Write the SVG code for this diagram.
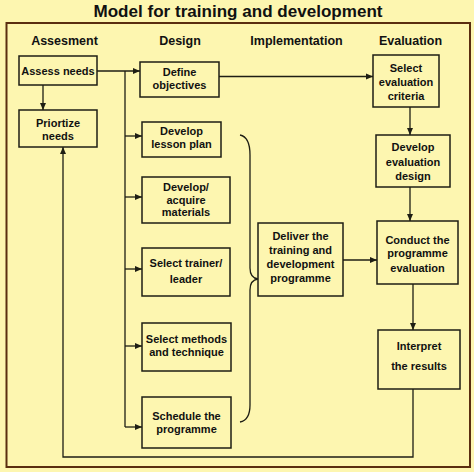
<svg xmlns="http://www.w3.org/2000/svg" width="474" height="472" viewBox="0 0 474 472">
<defs>
<marker id="arr" markerWidth="7" markerHeight="7" refX="7" refY="3.5" orient="auto" markerUnits="userSpaceOnUse">
<path d="M0,0.5 L7,3.5 L0,6.5 z" fill="#1e1e14"/>
</marker>
<style>
.bx{fill:#fdf6b0;stroke:#1e1e14;stroke-width:1.5}
.t{font-family:"Liberation Sans",Arial,sans-serif;font-weight:bold;font-size:11px;fill:#111;text-anchor:middle}
.h{font-family:"Liberation Sans",Arial,sans-serif;font-weight:bold;font-size:12.5px;fill:#111;text-anchor:middle}
.c{fill:none;stroke:#1e1e14;stroke-width:1.3}
.a{marker-end:url(#arr)}
</style>
</defs>
<rect x="0" y="0" width="474" height="472" fill="#fdf6b0"/>
<text x="238" y="17" font-family="'Liberation Sans',Arial,sans-serif" font-weight="bold" font-size="17" fill="#111" text-anchor="middle" textLength="289" lengthAdjust="spacingAndGlyphs">Model for training and development</text>
<rect x="6.5" y="23" width="463.5" height="444" fill="none" stroke="#5a2e10" stroke-width="2"/>
<g id="headers">
<text class="h" x="64.5" y="44.5">Assesment</text>
<text class="h" x="180" y="44.5">Design</text>
<text class="h" x="296.5" y="44.5">Implementation</text>
<text class="h" x="410.5" y="44.5">Evaluation</text>
</g>
<g id="connectors">
<path class="c a" d="M97,71 H140"/>
<path class="c" d="M125,71 V427"/>
<path class="c a" d="M125,136 H142"/>
<path class="c a" d="M125,197 H142"/>
<path class="c a" d="M125,269 H142"/>
<path class="c a" d="M125,346 H142"/>
<path class="c a" d="M125,427 H142"/>
<path class="c a" d="M43,85 V110"/>
<path class="c a" d="M219,76.5 H373"/>
<path class="c a" d="M410,107 V135"/>
<path class="c a" d="M410,187 V221"/>
<path class="c a" d="M343,260 H377"/>
<path class="c a" d="M413,284 V330"/>
<path class="c a" d="M413,389 V457 H63 V147"/>
<path class="c" d="M240,135 Q250,137 250,155 L250,268 Q250,278 258,279 Q250,280 250,290 L250,405 Q250,420 240,422"/>
</g>
<g id="assess-needs"><rect class="bx" x="19" y="56" width="78" height="29"/><text class="t" x="58" y="75">Assess needs</text></g>
<g id="priortize-needs"><rect class="bx" x="19" y="110" width="78" height="37"/><text class="t" x="58" y="126.5">Priortize</text><text class="t" x="58" y="139.5">needs</text></g>
<g id="define-objectives"><rect class="bx" x="140" y="62" width="79" height="35"/><text class="t" x="179.5" y="76">Define</text><text class="t" x="179.5" y="88.5">objectives</text></g>
<g id="develop-lesson-plan"><rect class="bx" x="142" y="122" width="79" height="35"/><text class="t" x="181.5" y="135">Develop</text><text class="t" x="181.5" y="147.5">lesson plan</text></g>
<g id="develop-materials"><rect class="bx" x="142" y="177" width="88" height="46"/><text class="t" x="186" y="191">Develop/</text><text class="t" x="186" y="203.5">acquire</text><text class="t" x="186" y="216">materials</text></g>
<g id="select-trainer"><rect class="bx" x="142" y="248" width="88" height="48"/><text class="t" x="186" y="267">Select trainer/</text><text class="t" x="186" y="283">leader</text></g>
<g id="select-methods"><rect class="bx" x="142" y="323" width="89" height="48"/><text class="t" x="186.5" y="343">Select methods</text><text class="t" x="186.5" y="356">and technique</text></g>
<g id="schedule"><rect class="bx" x="142" y="397" width="89" height="51"/><text class="t" x="186.5" y="420">Schedule the</text><text class="t" x="186.5" y="433">programme</text></g>
<g id="deliver"><rect class="bx" x="258" y="223" width="85" height="73"/><text class="t" x="300.5" y="240">Deliver the</text><text class="t" x="300.5" y="254">training and</text><text class="t" x="300.5" y="268">development</text><text class="t" x="300.5" y="282">programme</text></g>
<g id="select-criteria"><rect class="bx" x="373" y="55" width="66" height="52"/><text class="t" x="406" y="71.5">Select</text><text class="t" x="406" y="85.5">evaluation</text><text class="t" x="406" y="100">criteria</text></g>
<g id="develop-eval-design"><rect class="bx" x="376" y="135" width="74" height="52"/><text class="t" x="413" y="150.5">Develop</text><text class="t" x="413" y="165.5">evaluation</text><text class="t" x="413" y="179.5">design</text></g>
<g id="conduct"><rect class="bx" x="377" y="221" width="81" height="63"/><text class="t" x="417.5" y="243.5">Conduct the</text><text class="t" x="417.5" y="257">programme</text><text class="t" x="417.5" y="271.5">evaluation</text></g>
<g id="interpret"><rect class="bx" x="378" y="330" width="82" height="59"/><text class="t" x="419" y="349.5">Interpret</text><text class="t" x="419" y="369.5">the results</text></g>
</svg>
